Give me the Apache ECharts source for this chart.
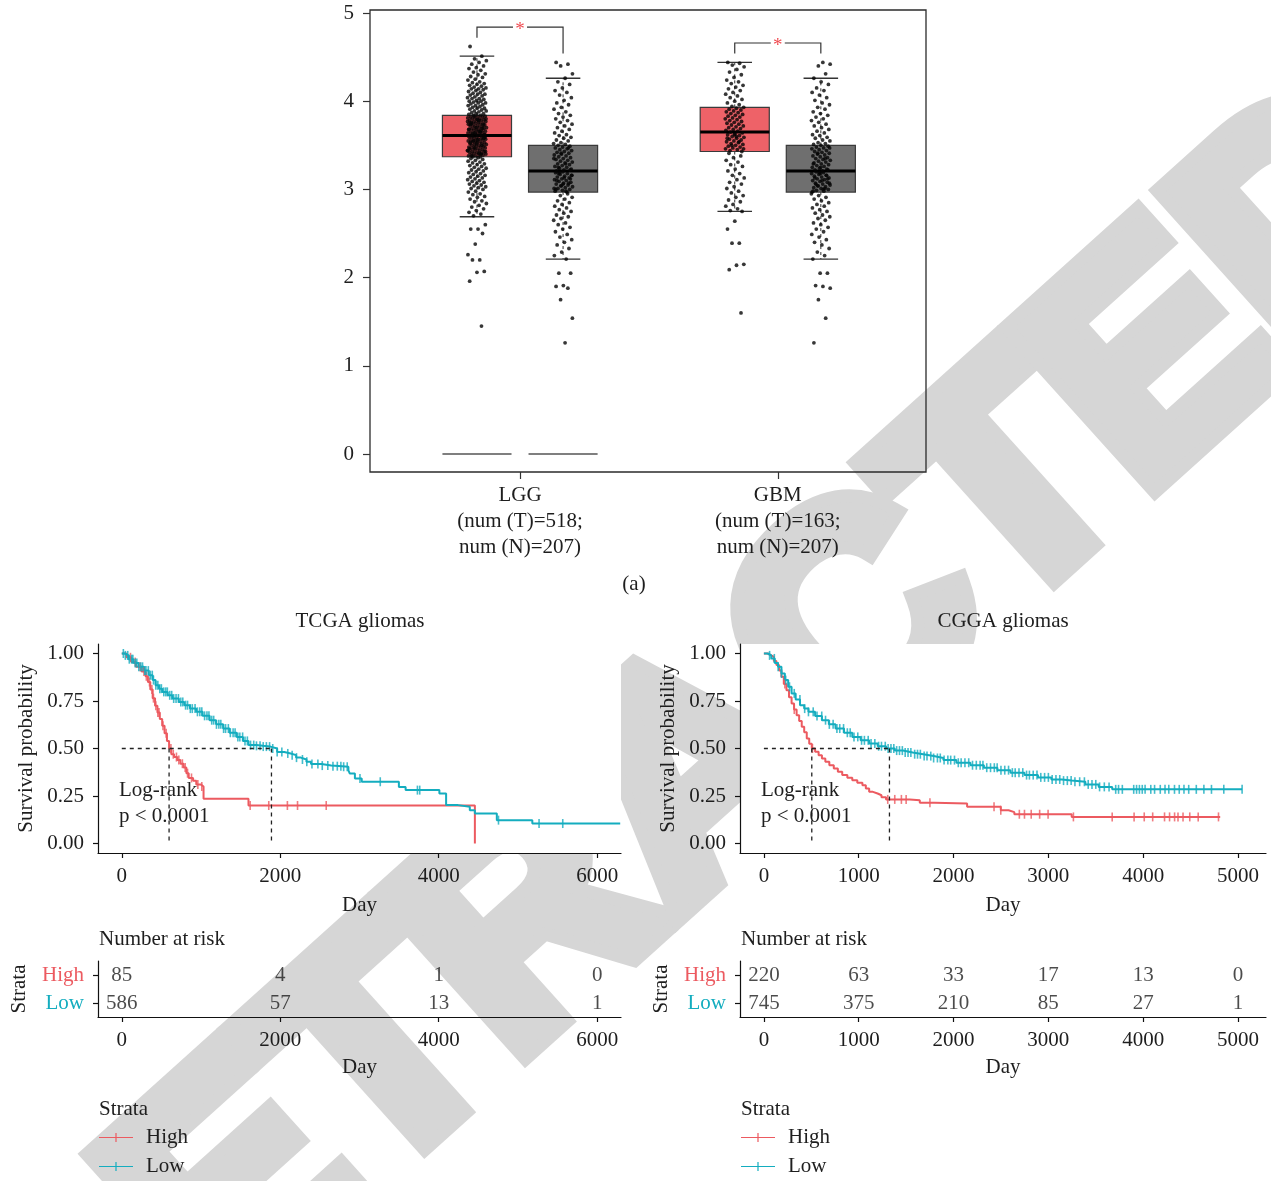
<!DOCTYPE html>
<html><head><meta charset="utf-8">
<script src="https://cdn.jsdelivr.net/npm/echarts@6/dist/echarts.min.js"></script>
<style>html,body{margin:0;padding:0;background:#fff}#c{width:1271px;height:1181px}</style>
</head><body><div id="c"></div>
<script>
// ---------------- DATA ----------------
const boxCategories = ['LGG', 'GBM'];
const boxCategoryLabels = ['LGG\n(num (T)=518;\nnum (N)=207)', 'GBM\n(num (T)=163;\nnum (N)=207)'];
const boxYTicks = [0, 1, 2, 3, 4, 5];
// [lowWhisker, q1, median, q3, highWhisker]
const tumorStats = [[2.69, 3.37, 3.61, 3.84, 4.51], [2.75, 3.43, 3.65, 3.93, 4.44]];
const normalStats = [[2.21, 2.97, 3.21, 3.50, 4.26], [2.21, 2.97, 3.21, 3.50, 4.26]];
const zeroBaselineGroups = ['LGG'];
// [bracket top, left leg end, right leg end]
const sigBrackets = [[4.84, 4.72, 4.54], [4.66, 4.54, 4.54]];

const lggTumorValues = [4.62, 4.51, 4.48, 4.46, 4.44, 4.42, 4.40, 4.38, 4.37, 4.35, 4.33, 4.31, 4.30, 4.28, 4.27, 4.25, 4.24, 4.22, 4.21, 4.20,
  4.19, 4.18, 4.17, 4.16, 4.15, 4.14, 4.14, 4.13, 4.12, 4.11, 4.10, 4.09, 4.08, 4.08, 4.07, 4.06, 4.05, 4.04, 4.03, 4.03, 4.02, 4.01, 4.00, 4.00,
  3.99, 3.98, 3.98, 3.97, 3.96, 3.95, 3.95, 3.94, 3.93, 3.92, 3.92, 3.91, 3.90, 3.89, 3.89, 3.88, 3.87, 3.86, 3.86, 3.85, 3.84, 3.84,
  3.83, 3.83, 3.82, 3.82, 3.81, 3.81, 3.80, 3.80, 3.79, 3.79, 3.78, 3.78, 3.77, 3.77, 3.76, 3.76, 3.75, 3.75, 3.74, 3.74, 3.73, 3.73, 3.72, 3.72,
  3.71, 3.71, 3.70, 3.70, 3.69, 3.69, 3.68, 3.68, 3.67, 3.67, 3.66, 3.66, 3.65, 3.65, 3.64, 3.64, 3.63, 3.63, 3.62, 3.62, 3.61, 3.61,
  3.83, 3.80, 3.78, 3.75, 3.73, 3.70, 3.68, 3.65, 3.63, 3.62, 3.79, 3.74, 3.69, 3.64, 3.77, 3.66,
  3.60, 3.60, 3.59, 3.59, 3.58, 3.58, 3.57, 3.57, 3.56, 3.56, 3.55, 3.55, 3.54, 3.54, 3.53, 3.53, 3.52, 3.52, 3.51, 3.51, 3.50, 3.50,
  3.49, 3.49, 3.48, 3.48, 3.47, 3.47, 3.46, 3.46, 3.45, 3.45, 3.44, 3.44, 3.43, 3.43, 3.42, 3.42, 3.41, 3.41, 3.40, 3.40, 3.39, 3.39, 3.38, 3.38, 3.37, 3.37,
  3.59, 3.56, 3.53, 3.50, 3.47, 3.44, 3.41, 3.38, 3.58, 3.52, 3.46, 3.40, 3.55, 3.43,
  3.36, 3.35, 3.34, 3.33, 3.32, 3.31, 3.30, 3.29, 3.28, 3.27, 3.26, 3.25, 3.24, 3.23, 3.22, 3.21, 3.20, 3.19, 3.18, 3.17, 3.16, 3.15, 3.14, 3.13,
  3.12, 3.11, 3.10, 3.09, 3.08, 3.07, 3.06, 3.05, 3.04, 3.03, 3.02, 3.01, 3.00, 2.98, 2.97, 2.95, 2.94, 2.92, 2.91, 2.89, 2.87, 2.86, 2.84, 2.82,
  2.80, 2.78, 2.76, 2.74, 2.72, 2.70,
  2.60, 2.55, 2.55, 2.50, 2.38, 2.26, 2.20, 2.20, 2.07, 2.06, 1.96, 1.45];

const gbmTumorValues = [4.44, 4.43, 4.41, 4.39, 4.36, 4.33, 4.30, 4.27, 4.24, 4.22, 4.20, 4.18, 4.16, 4.14, 4.12, 4.10, 4.08, 4.06, 4.04, 4.02, 4.00, 3.98, 3.96, 3.94, 3.93,
  3.92, 3.91, 3.90, 3.89, 3.88, 3.87, 3.86, 3.85, 3.84, 3.83, 3.82, 3.81, 3.80, 3.79, 3.78, 3.77, 3.76, 3.75, 3.74, 3.73, 3.72, 3.71, 3.70, 3.69, 3.68, 3.67, 3.66, 3.65,
  3.64, 3.63, 3.62, 3.61, 3.60, 3.59, 3.58, 3.57, 3.56, 3.55, 3.54, 3.53, 3.52, 3.51, 3.50, 3.49, 3.48, 3.47, 3.46, 3.45, 3.44, 3.43, 3.62, 3.58, 3.54, 3.50, 3.46, 3.60,
  3.41, 3.38, 3.36, 3.33, 3.31, 3.28, 3.26, 3.23, 3.21, 3.18, 3.16, 3.13, 3.11, 3.08, 3.06, 3.03, 3.01, 2.98, 2.96, 2.93, 2.91, 2.88, 2.86, 2.83, 2.81, 2.78, 2.76, 2.75,
  2.64, 2.55, 2.39, 2.39, 2.15, 2.14, 2.09, 1.60];

const normalValues = [4.44, 4.42, 4.40, 4.31, 4.26,
  4.22, 4.19, 4.15, 4.12, 4.10, 4.07, 4.04, 4.01, 3.98, 3.96, 3.93, 3.91, 3.88, 3.86, 3.84, 3.82, 3.80, 3.78, 3.76, 3.74, 3.72, 3.70, 3.68, 3.66, 3.64, 3.62, 3.61, 3.59, 3.58, 3.56, 3.55, 3.53, 3.52, 3.51,
  3.50, 3.49, 3.48, 3.47, 3.46, 3.45, 3.44, 3.43, 3.42, 3.41, 3.40, 3.39, 3.38, 3.37, 3.36, 3.35, 3.34, 3.33, 3.32, 3.31, 3.30, 3.29, 3.28, 3.27, 3.26, 3.25, 3.24, 3.23, 3.22, 3.21, 3.47, 3.41, 3.35, 3.29, 3.25, 3.22,
  3.20, 3.19, 3.18, 3.17, 3.16, 3.15, 3.14, 3.13, 3.12, 3.11, 3.10, 3.09, 3.08, 3.07, 3.06, 3.05, 3.04, 3.03, 3.02, 3.01, 3.00, 2.99, 2.98, 2.97, 3.19, 3.16, 3.13, 3.10, 3.07, 3.04, 3.01, 2.98, 3.18, 3.12, 3.06, 3.00,
  2.95, 2.93, 2.91, 2.89, 2.87, 2.85, 2.83, 2.81, 2.79, 2.77, 2.75, 2.73, 2.71, 2.69, 2.67, 2.65, 2.62, 2.60, 2.57, 2.55, 2.52, 2.49, 2.46, 2.43, 2.40, 2.37, 2.33, 2.29, 2.25, 2.21,
  2.05, 2.05, 1.91, 1.90, 1.88, 1.75, 1.54, 1.26];

// Kaplan-Meier: [day, survival]
const tcgaHigh = [[0,1],[60,0.98],[120,0.955],[180,0.93],[250,0.905],[300,0.88],[330,0.85],[360,0.81],[390,0.765],[420,0.725],[450,0.69],[480,0.655],[510,0.62],[540,0.58],[570,0.54],[597,0.50],[625,0.47],[660,0.455],[700,0.44],[740,0.42],[780,0.40],[815,0.37],[845,0.345],[900,0.33],[940,0.31],[1000,0.30],[1032,0.235],[1599,0.20],[4456,0]];
const tcgaLow = [[0,1],[40,0.99],[85,0.97],[150,0.95],[213,0.93],[280,0.91],[341,0.886],[390,0.86],[426,0.833],[470,0.815],[512,0.798],[580,0.78],[640,0.763],[720,0.745],[789,0.728],[860,0.71],[938,0.693],[1020,0.672],[1109,0.649],[1190,0.627],[1279,0.605],[1360,0.583],[1450,0.561],[1530,0.54],[1599,0.518],[1700,0.514],[1780,0.51],[1876,0.50],[1961,0.482],[2050,0.474],[2132,0.465],[2200,0.452],[2260,0.442],[2330,0.43],[2388,0.418],[2520,0.41],[2644,0.407],[2780,0.404],[2860,0.385],[2878,0.368],[2942,0.342],[3028,0.325],[3497,0.298],[3582,0.281],[4008,0.263],[4093,0.202],[4243,0.193],[4392,0.175],[4456,0.158],[4733,0.123],[5181,0.105],[6290,0.105]];
const tcgaHighCensor = [110,170,230,280,310,350,380,400,430,455,470,520,560,620,650,690,720,765,800,830,880,960,1010,1620,1855,2090,2218,2580];
const tcgaLowCensor = [20,45,75,95,125,140,170,190,215,240,262,290,305,335,360,385,400,430,455,480,500,530,555,575,605,630,655,685,715,745,770,805,830,865,890,925,955,985,1010,1045,1075,1100,1135,1160,1195,1225,1250,1285,1310,1345,1370,1405,1430,1465,1490,1525,1555,1585,1625,1665,1700,1745,1785,1825,1865,1905,1961,2020,2095,2150,2205,2280,2335,2400,2475,2530,2600,2665,2720,2765,2800,2845,3006,3262,3731,3760,4754,5266,5565];
const tcgaMedians = [597, 1889];

const cggaHigh = [[0,1],[40,0.99],[78,0.982],[105,0.96],[132,0.94],[160,0.91],[185,0.877],[210,0.84],[238,0.807],[265,0.77],[292,0.737],[318,0.705],[345,0.675],[372,0.645],[399,0.614],[425,0.585],[452,0.553],[478,0.525],[505,0.5],[540,0.483],[577,0.465],[612,0.447],[648,0.43],[690,0.412],[737,0.395],[780,0.378],[826,0.36],[880,0.346],[932,0.333],[985,0.32],[1039,0.307],[1075,0.29],[1110,0.272],[1150,0.263],[1199,0.254],[1240,0.243],[1288,0.232],[1538,0.228],[1644,0.214],[1800,0.21],[2143,0.193],[2498,0.175],[2580,0.165],[2641,0.154],[3246,0.14],[4812,0.14]];
const cggaLow = [[0,1],[40,0.99],[78,0.974],[115,0.95],[149,0.93],[185,0.895],[221,0.86],[256,0.825],[292,0.79],[335,0.758],[381,0.728],[425,0.71],[470,0.693],[540,0.671],[612,0.649],[685,0.627],[755,0.605],[845,0.583],[932,0.561],[1020,0.543],[1110,0.526],[1200,0.512],[1288,0.5],[1380,0.489],[1466,0.479],[1570,0.47],[1680,0.46],[1790,0.45],[1893,0.439],[2030,0.425],[2178,0.412],[2320,0.399],[2463,0.386],[2600,0.373],[2748,0.36],[2890,0.348],[3032,0.337],[3140,0.331],[3246,0.325],[3390,0.311],[3531,0.298],[3673,0.285],[5043,0.285]];
const cggaHighCensor = [221,320,512,1306,1380,1450,1500,1751,2427,2498,2694,2748,2819,2908,2997,3264,3673,3904,4011,4100,4225,4278,4331,4367,4420,4491,4580,4794];
const cggaLowCensor = [60,110,150,185,230,270,320,380,430,470,520,560,610,650,690,730,770,800,840,880,910,950,990,1030,1060,1100,1130,1170,1210,1240,1280,1310,1340,1370,1400,1430,1460,1490,1520,1550,1590,1620,1650,1690,1720,1760,1790,1830,1860,1900,1940,1970,2010,2050,2080,2120,2160,2200,2240,2280,2310,2350,2390,2430,2460,2500,2540,2580,2620,2650,2690,2730,2770,2800,2840,2880,2920,2960,3000,3040,3080,3120,3160,3200,3240,3280,3330,3380,3420,3460,3500,3540,3590,3640,3710,3740,3780,3900,3930,3960,3990,4020,4080,4120,4180,4230,4270,4330,4380,4430,4480,4560,4640,4720,4850,5043];
const cggaMedians = [505, 1324];

const tcgaRiskDays = [0, 2000, 4000, 6000];
const tcgaRiskHigh = [85, 4, 1, 0];
const tcgaRiskLow = [586, 57, 13, 1];
const cggaRiskDays = [0, 1000, 2000, 3000, 4000, 5000];
const cggaRiskHigh = [220, 63, 33, 17, 13, 0];
const cggaRiskLow = [745, 375, 210, 85, 27, 1];
const kmYTicks = [0, 0.25, 0.5, 0.75, 1];

// ---------------- STYLE ----------------
const FONT = '"Liberation Serif","Times New Roman",serif';
const FS = 21;
const TXT = '#1e1e1e';
const RED = '#ec5a60', TEAL = '#14adbf', BOXRED = '#ee6268', BOXGREY = '#6f6f6f';
const OFF = 0.167, BOX_HW = 0.134, JW = 0.037;

function jitter(i) { return ((i * 0.6180339887 + 0.137) % 1) * 2 - 1; }
function jitterData(center, vals) { return vals.map((v, i) => [center + jitter(i) * JW, v]); }
function survAt(curve, t) { let s = 1; for (const p of curve) { if (p[0] <= t) s = p[1]; else break; } return s; }

function renderBox(params, api) {
  const x = api.value(0), lo = api.value(1), q1 = api.value(2), md = api.value(3), q3 = api.value(4), hi = api.value(5);
  const a = api.coord([x - BOX_HW, q3]), b = api.coord([x + BOX_HW, q1]);
  const cx = api.coord([x, md])[0], yMd = api.coord([x, md])[1];
  const yHi = api.coord([x, hi])[1], yLo = api.coord([x, lo])[1];
  const capL = api.coord([x - BOX_HW / 2, md])[0], capR = api.coord([x + BOX_HW / 2, md])[0];
  const ws = { stroke: '#333', lineWidth: 1 };
  return { type: 'group', children: [
    { type: 'line', shape: { x1: cx, y1: a[1], x2: cx, y2: yHi }, style: Object.assign({ lineDash: [3, 3] }, ws) },
    { type: 'line', shape: { x1: cx, y1: b[1], x2: cx, y2: yLo }, style: Object.assign({ lineDash: [3, 3] }, ws) },
    { type: 'line', shape: { x1: capL, y1: yHi, x2: capR, y2: yHi }, style: { stroke: '#333', lineWidth: 1.3 } },
    { type: 'line', shape: { x1: capL, y1: yLo, x2: capR, y2: yLo }, style: { stroke: '#333', lineWidth: 1.3 } },
    { type: 'rect', shape: { x: a[0], y: a[1], width: b[0] - a[0], height: b[1] - a[1] }, style: { fill: api.visual('color'), stroke: '#3a3a3a', lineWidth: 1.2 } },
    { type: 'line', shape: { x1: a[0], y1: yMd, x2: b[0], y2: yMd }, style: { stroke: '#000', lineWidth: 3 } }
  ] };
}
function renderZero(params, api) {
  const c = api.value(0), v = api.value(1);
  const kids = [];
  [-OFF, OFF].forEach(o => {
    const p1 = api.coord([c + o - BOX_HW, v]), p2 = api.coord([c + o + BOX_HW, v]);
    kids.push({ type: 'line', shape: { x1: p1[0], y1: p1[1], x2: p2[0], y2: p2[1] }, style: { stroke: '#555', lineWidth: 1.5 } });
  });
  return { type: 'group', children: kids };
}
function renderBracket(params, api) {
  const c = api.value(0), top = api.value(1), l = api.value(2), r = api.value(3);
  const xl = api.coord([c - OFF, top])[0], xr = api.coord([c + OFF, top])[0];
  const m = api.coord([c, top]);
  const yl = api.coord([c, l])[1], yr = api.coord([c, r])[1];
  const st = { stroke: '#333', lineWidth: 1.2, fill: null };
  return { type: 'group', children: [
    { type: 'polyline', shape: { points: [[xl, yl], [xl, m[1]], [m[0] - 7, m[1]]] }, style: st },
    { type: 'polyline', shape: { points: [[m[0] + 7, m[1]], [xr, m[1]], [xr, yr]] }, style: st },
    { type: 'text', x: m[0], y: m[1] + 3, style: { text: '*', fill: '#f04a50', font: '19px ' + FONT, align: 'center', verticalAlign: 'middle' } }
  ] };
}

const lbl = { fontFamily: FONT, fontSize: FS, color: TXT };
const axLine = { show: true, onZero: false, lineStyle: { color: '#111', width: 1.2 } };
const tickStyle = { color: '#111', width: 1.2 };

function kmX(gi, min, max, ticks, gap) {
  return { gridIndex: gi, type: 'value', min, max, axisLine: axLine,
    axisTick: { show: true, length: 5, customValues: ticks, lineStyle: tickStyle },
    axisLabel: Object.assign({ customValues: ticks, margin: 13, formatter: v => String(v) }, lbl), splitLine: { show: false },
    name: 'Day', nameLocation: 'middle', nameGap: gap, nameTextStyle: lbl };
}
function kmY(gi) {
  return { gridIndex: gi, type: 'value', min: -0.05, max: 1.05, axisLine: axLine,
    axisTick: { show: true, length: 5, customValues: kmYTicks, lineStyle: tickStyle },
    axisLabel: Object.assign({ customValues: kmYTicks, margin: 14, formatter: v => v.toFixed(2) }, lbl), splitLine: { show: false },
    name: 'Survival probability', nameLocation: 'middle', nameGap: 61, nameRotate: 90, nameTextStyle: lbl };
}
function riskY(gi) {
  return { gridIndex: gi, type: 'category', data: ['Low', 'High'], axisLine: axLine,
    axisTick: { show: true, alignWithLabel: true, length: 5, lineStyle: tickStyle },
    axisLabel: { margin: 14, fontFamily: FONT, fontSize: FS, formatter: v => v === 'High' ? '{h|High}' : '{l|Low}',
      rich: { h: { color: RED, fontFamily: FONT, fontSize: FS }, l: { color: TEAL, fontFamily: FONT, fontSize: FS } } },
    name: 'Strata', nameLocation: 'middle', nameGap: 68, nameRotate: 90, nameTextStyle: lbl };
}

function kmSeries(gi, high, low, highC, lowC, meds) {
  const out = [];
  const line = (name, data, color) => ({ name, type: 'line', xAxisIndex: gi, yAxisIndex: gi, data, step: 'end', showSymbol: false, symbol: 'none',
    lineStyle: { color, width: 2 }, itemStyle: { color }, z: 3 });
  const cens = (name, days, curve, color) => ({ name, type: 'scatter', xAxisIndex: gi, yAxisIndex: gi, symbol: 'rect', symbolSize: [1.6, 9],
    itemStyle: { color }, data: days.map(d => [d, survAt(curve, d)]), z: 4 });
  out.push(line('High', high, RED), line('Low', low, TEAL));
  out.push(cens('High', highC, high, RED), cens('Low', lowC, low, TEAL));
  const dash = { color: '#222', width: 1.3, type: [4, 4] };
  const mline = data => ({ type: 'line', xAxisIndex: gi, yAxisIndex: gi, data, showSymbol: false, symbol: 'none', lineStyle: dash, z: 5, silent: true });
  out.push(mline([[0, 0.5], [Math.max(...meds), 0.5]]));
  meds.forEach(m => out.push(mline([[m, 0.5], [m, 0]])));
  return out;
}
function riskSeries(gi, days, hi, lo) {
  const mk = (row, vals) => ({ type: 'scatter', xAxisIndex: gi, yAxisIndex: gi, symbolSize: 1, itemStyle: { color: 'rgba(0,0,0,0)' },
    data: days.map((d, i) => [d, row, vals[i]]), silent: true,
    label: { show: true, position: 'inside', formatter: p => String(p.value[2]), fontFamily: FONT, fontSize: FS, color: TXT } });
  return [mk('High', hi), mk('Low', lo)];
}

function txt(x, y, text, align, extra) {
  return Object.assign({ type: 'text', x, y, z: 50, style: { text, font: FS + 'px ' + FONT, fill: TXT, align: align || 'left', verticalAlign: 'middle' } }, extra || {});
}

const legendIcon = 'path://M0,4.4 H34 V5.6 H0 Z M16.4,0.5 H17.6 V9.5 H16.4 Z';
function legendAt(left) {
  return { left, top: 1127, orient: 'vertical', padding: 0, data: ['High', 'Low'], icon: legendIcon, itemWidth: 34, itemHeight: 10, itemGap: 8,
    selectedMode: false, textStyle: { fontFamily: FONT, fontSize: FS, color: TXT, lineHeight: 21, padding: [0, 0, 0, 8] } };
}

const chart = echarts.init(document.getElementById('c'), null, { renderer: 'canvas', width: 1271, height: 1181 });
const option = {
  animation: false,
  backgroundColor: '#fff',
  grid: [
    { left: 370, top: 10, width: 556, height: 462, show: true, borderColor: '#2b2b2b', borderWidth: 1.3, backgroundColor: 'transparent', outerBoundsMode: 'none', containLabel: false },
    { left: 98, top: 644, width: 523, height: 209, show: true, borderWidth: 0, backgroundColor: '#fff', outerBoundsMode: 'none', containLabel: false },
    { left: 740, top: 644, width: 526, height: 209, show: true, borderWidth: 0, backgroundColor: '#fff', outerBoundsMode: 'none', containLabel: false },
    { left: 98, top: 961, width: 523, height: 56, outerBoundsMode: 'none', containLabel: false },
    { left: 740, top: 961, width: 526, height: 56, outerBoundsMode: 'none', containLabel: false }
  ],
  xAxis: [
    { gridIndex: 0, type: 'value', min: 0.418, max: 2.575, axisLine: { show: false, onZero: false },
      axisTick: { show: true, length: 7, customValues: [1, 2], lineStyle: { color: '#333', width: 1.2 } },
      axisLabel: Object.assign({ customValues: [1, 2], margin: 10, lineHeight: 26, align: 'center', formatter: v => boxCategoryLabels[Math.round(v) - 1] || '' }, lbl),
      splitLine: { show: false } },
    kmX(1, -300, 6300, [0, 2000, 4000, 6000], 42),
    kmX(2, -252, 5295, [0, 1000, 2000, 3000, 4000, 5000], 42),
    kmX(3, -300, 6300, [0, 2000, 4000, 6000], 40),
    kmX(4, -252, 5295, [0, 1000, 2000, 3000, 4000, 5000], 40)
  ],
  yAxis: [
    { gridIndex: 0, type: 'value', min: -0.204, max: 5.034, axisLine: { show: false, onZero: false },
      axisTick: { show: true, length: 7, customValues: boxYTicks, lineStyle: { color: '#333', width: 1.2 } },
      axisLabel: Object.assign({ customValues: boxYTicks, margin: 16 }, lbl), splitLine: { show: false } },
    kmY(1), kmY(2), riskY(3), riskY(4)
  ],
  legend: [legendAt(99), legendAt(741)],
  graphic: [
    { type: 'text', x: 700, y: 780, rotation: 42 * Math.PI / 180, z: -10, silent: true,
      style: { text: 'RETRACTED', font: 'bold 305px "Liberation Sans", Arial, sans-serif', fill: '#d6d6d6', stroke: '#d6d6d6', lineWidth: 26, align: 'center', verticalAlign: 'middle' } },
    txt(634, 584, '(a)', 'center'),
    txt(360, 621, 'TCGA gliomas', 'center'),
    txt(1003, 621, 'CGGA gliomas', 'center'),
    txt(119, 790, 'Log-rank'), txt(119, 816, 'p < 0.0001'),
    txt(761, 790, 'Log-rank'), txt(761, 816, 'p < 0.0001'),
    txt(99, 939, 'Number at risk'), txt(741, 939, 'Number at risk'),
    txt(99, 1109, 'Strata'), txt(741, 1109, 'Strata')
  ],
  series: [
    { type: 'custom', name: 'zero', xAxisIndex: 0, yAxisIndex: 0, renderItem: renderZero, silent: true,
      data: zeroBaselineGroups.map(g => [boxCategories.indexOf(g) + 1, 0]), encode: { x: 0, y: 1 } },
    { type: 'custom', name: 'Tumor', xAxisIndex: 0, yAxisIndex: 0, renderItem: renderBox, itemStyle: { color: BOXRED }, silent: true,
      data: boxCategories.map((c, i) => [i + 1 - OFF].concat(tumorStats[i])), encode: { x: 0, y: [1, 2, 3, 4, 5] } },
    { type: 'custom', name: 'Normal', xAxisIndex: 0, yAxisIndex: 0, renderItem: renderBox, itemStyle: { color: BOXGREY }, silent: true,
      data: boxCategories.map((c, i) => [i + 1 + OFF].concat(normalStats[i])), encode: { x: 0, y: [1, 2, 3, 4, 5] } },
    { type: 'scatter', name: 'pts1', xAxisIndex: 0, yAxisIndex: 0, symbolSize: 3.8, itemStyle: { color: '#050505' }, data: jitterData(1 - OFF, lggTumorValues), silent: true },
    { type: 'scatter', name: 'pts2', xAxisIndex: 0, yAxisIndex: 0, symbolSize: 3.8, itemStyle: { color: '#050505' }, data: jitterData(1 + OFF, normalValues), silent: true },
    { type: 'scatter', name: 'pts3', xAxisIndex: 0, yAxisIndex: 0, symbolSize: 3.8, itemStyle: { color: '#050505' }, data: jitterData(2 - OFF, gbmTumorValues), silent: true },
    { type: 'scatter', name: 'pts4', xAxisIndex: 0, yAxisIndex: 0, symbolSize: 3.8, itemStyle: { color: '#050505' }, data: jitterData(2 + OFF, normalValues.slice().reverse()), silent: true },
    { type: 'custom', name: 'sig', xAxisIndex: 0, yAxisIndex: 0, renderItem: renderBracket, silent: true,
      data: sigBrackets.map((b, i) => [i + 1].concat(b)), encode: { x: 0, y: 1 } }
  ].concat(
    kmSeries(1, tcgaHigh, tcgaLow, tcgaHighCensor, tcgaLowCensor, tcgaMedians),
    kmSeries(2, cggaHigh, cggaLow, cggaHighCensor, cggaLowCensor, cggaMedians),
    riskSeries(3, tcgaRiskDays, tcgaRiskHigh, tcgaRiskLow),
    riskSeries(4, cggaRiskDays, cggaRiskHigh, cggaRiskLow)
  )
};
chart.setOption(option);
</script></body></html>
